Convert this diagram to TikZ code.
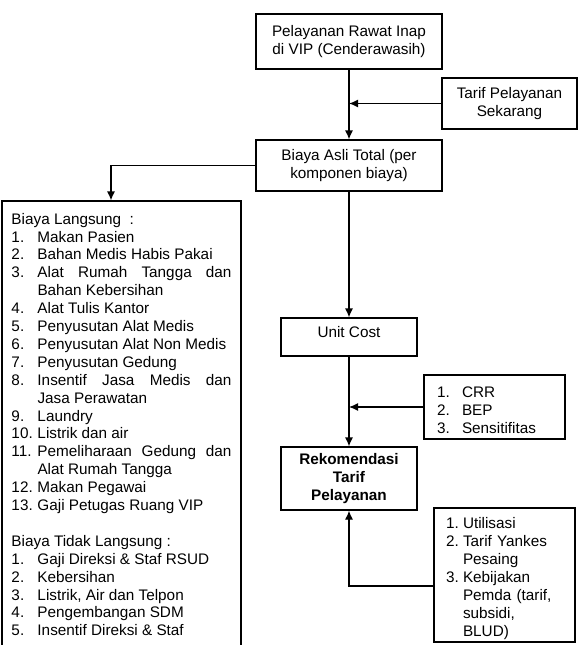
\documentclass[tikz,border=0pt]{standalone}
\usepackage{fontspec}
\setmainfont{Liberation Sans}
\usetikzlibrary{arrows.meta}
\setlength{\parindent}{0pt}
\newcommand{\nomor}[2][26pt]{\par\hangindent=#1\hangafter=1\noindent\makebox[#1][l]{#2}\ignorespaces}

\begin{document}
\begin{tikzpicture}[
       x=1pt, y=-1pt,
       line width=1.2pt,
       font=\fontsize{15.3}{17.9}\selectfont,
       >={Latex[length=9pt,width=8pt]},
       kotak/.style={
         draw,
         rectangle,
         align=center,
         inner sep=0pt
       },
       daftar/.style={
         draw,
         rectangle,
         align=left,
         inner sep=0pt
       }
     ]

       \useasboundingbox (0,0) rectangle (580,645);

       \node (inap) at (349,41.5) [kotak,minimum width=186pt,minimum height=55pt]{Pelayanan Rawat Inap\\di VIP (Cenderawasih)};
       \node (tarif) at (509.5,103.5) [kotak,minimum width=135pt,minimum height=51pt]{Tarif Pelayanan\\Sekarang};
       \node (biaya) at (349,165.5) [kotak,minimum width=186pt,minimum height=51pt]{Biaya Asli Total (per\\komponen biaya)};
       \node (unit) at (349,337) [kotak,minimum width=136pt,minimum height=38pt,text depth=10pt]{Unit Cost};
       \node (rekom) at (349,478.5) [kotak,minimum width=136pt,minimum height=63pt,font=\fontsize{15.3}{17.9}\selectfont\bfseries]{Rekomendasi\\Tarif\\Pelayanan};

       \node (langsung) at (121.5,424.5) [daftar,minimum width=239pt,minimum height=447pt,text width=220pt,align=justify]{%
         Biaya Langsung~ :
         \nomor{1.}Makan Pasien
         \nomor{2.}Bahan Medis Habis Pakai
         \nomor{3.}Alat Rumah Tangga dan\linebreak Bahan Kebersihan
         \nomor{4.}Alat Tulis Kantor
         \nomor{5.}Penyusutan Alat Medis
         \nomor{6.}Penyusutan Alat Non Medis
         \nomor{7.}Penyusutan Gedung
         \nomor{8.}Insentif Jasa Medis dan\linebreak Jasa Perawatan
         \nomor{9.}Laundry
         \nomor{10.}Listrik dan air
         \nomor{11.}Pemeliharaan Gedung dan\linebreak Alat Rumah Tangga
         \nomor{12.}Makan Pegawai
         \nomor{13.}Gaji Petugas Ruang VIP
         \par\mbox{}\par
         Biaya Tidak Langsung :
         \nomor{1.}Gaji Direksi \& Staf RSUD
         \nomor{2.}Kebersihan
         \nomor{3.}Listrik, Air dan Telpon
         \nomor{4.}Pengembangan SDM
         \nomor{5.}Insentif Direksi \& Staf\par};

       \node (crr) at (494.5,407) [daftar,minimum width=141pt,minimum height=64pt,text width=115pt]{%
         \nomor[25pt]{1.}CRR
         \nomor[25pt]{2.}BEP
         \nomor[25pt]{3.}Sensitifitas\par};

       \node (faktor) at (504.5,575) [daftar,minimum width=141pt,minimum height=134pt,text width=117pt]{%
         \nomor[17pt]{1.}Utilisasi
         \nomor[17pt]{2.}Tarif Yankes\newline Pesaing
         \nomor[17pt]{3.}Kebijakan\newline Pemda (tarif,\newline subsidi,\newline BLUD)\par};

       \coordinate (m1) at (inap.south |- tarif.west);
       \coordinate (m2) at (unit.south |- crr.west);
       \coordinate (belok) at (111,165.5);

       \draw[->] (inap) -- (biaya);
       \draw[->] (tarif) -- (m1);
       \draw[->] (biaya.west) -- (belok) -- (belok |- langsung.north);
       \draw[->] (biaya) -- (unit);
       \draw[->] (crr) -- (m2);
       \draw[->] (unit) -- (rekom);
       \draw[->] ([yshift=-11pt]faktor.west) -| (rekom.south);

\end{tikzpicture}
\end{document}
